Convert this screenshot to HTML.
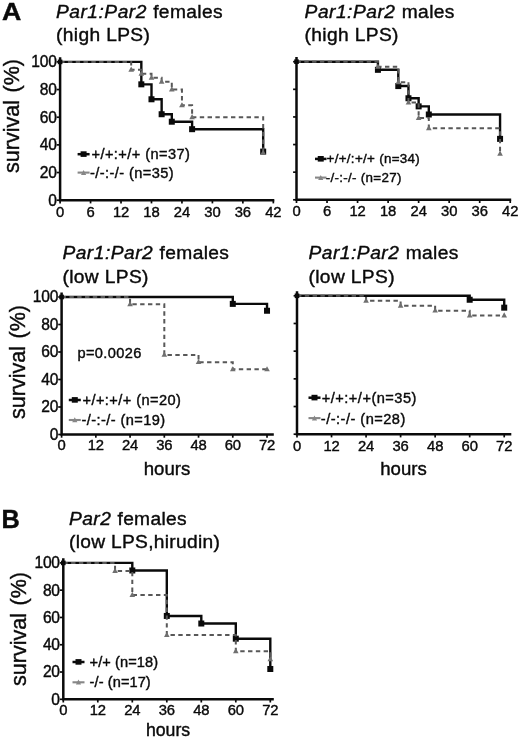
<!DOCTYPE html>
<html lang="en">
<head>
<meta charset="utf-8">
<title>Survival curves</title>
<style>
html,body{margin:0;padding:0;background:#fff;}
body{width:520px;height:738px;overflow:hidden;}
svg{display:block;filter:blur(0.4px);font-family:"Liberation Sans", Arial, Helvetica, sans-serif;fill:#0a0a0a;}
svg text{stroke:#0a0a0a;stroke-width:0.4px;}
</style>
</head>
<body>
<svg width="520" height="738" viewBox="0 0 520 738">
<rect x="0" y="0" width="520" height="738" fill="#ffffff"/>
<text transform="translate(1.9,20.4) scale(1.1,1)" font-size="24.3" font-weight="bold">A</text>
<text transform="translate(1.4,527.8) scale(1.0,1)" font-size="25.3" font-weight="bold">B</text>
<text x="56" y="17.8" font-size="19.2" letter-spacing="0.36"><tspan font-style="italic" letter-spacing="0.50">Par1:Par2</tspan><tspan dx="0.6"> females</tspan></text>
<text x="56" y="41.4" font-size="19.2" letter-spacing="0.36">(high LPS)</text>
<text transform="translate(19.2,116) rotate(-90)" text-anchor="middle" font-size="21.5" word-spacing="1.6">survival (%)</text>
<path d="M60.10,61.90 H141.33 V84.33 H151.49 V99.28 H161.64 V114.23 H171.79 V121.71 H192.10 V129.18 H263.18 V151.61" fill="none" stroke="#0a0a0a" stroke-width="2.4"/>
<rect x="138.33" y="81.33" width="6.0" height="6.0" fill="#0a0a0a"/>
<rect x="148.49" y="96.28" width="6.0" height="6.0" fill="#0a0a0a"/>
<rect x="158.64" y="111.23" width="6.0" height="6.0" fill="#0a0a0a"/>
<rect x="168.79" y="118.71" width="6.0" height="6.0" fill="#0a0a0a"/>
<rect x="189.10" y="126.18" width="6.0" height="6.0" fill="#0a0a0a"/>
<rect x="260.18" y="148.61" width="6.0" height="6.0" fill="#0a0a0a"/>
<path d="M60.10,61.90 H131.18 V69.80 H141.33 V73.75 H151.49 V77.71 H161.64 V81.66 H171.79 V89.56 H181.95 V105.37 H192.10 V117.22 H263.18 V152.78" fill="none" stroke="#585858" stroke-width="2" stroke-dasharray="4.4 3.4"/>
<path d="M131.18,66.58 L133.98,71.78 L128.38,71.78 Z" fill="#707070"/>
<path d="M141.33,70.53 L144.13,75.73 L138.53,75.73 Z" fill="#707070"/>
<path d="M151.49,74.48 L154.29,79.68 L148.69,79.68 Z" fill="#707070"/>
<path d="M161.64,78.43 L164.44,83.63 L158.84,83.63 Z" fill="#707070"/>
<path d="M171.79,86.34 L174.59,91.54 L168.99,91.54 Z" fill="#707070"/>
<path d="M181.95,102.14 L184.75,107.34 L179.15,107.34 Z" fill="#707070"/>
<path d="M192.10,114.00 L194.90,119.20 L189.30,119.20 Z" fill="#707070"/>
<path d="M263.18,149.56 L265.98,154.76 L260.38,154.76 Z" fill="#707070"/>
<rect x="57.80" y="59.60" width="4.6" height="4.6" fill="#0a0a0a"/>
<path d="M60.10,57.30 V200.20 H274.30" fill="none" stroke="#0a0a0a" stroke-width="2.5" stroke-linejoin="miter"/>
<line x1="56.70" x2="60.10" y1="200.20" y2="200.20" stroke="#0a0a0a" stroke-width="1.7"/>
<text x="56.60" y="205.65" text-anchor="end" font-size="15.6" letter-spacing="-0.25">0</text>
<line x1="56.70" x2="60.10" y1="172.54" y2="172.54" stroke="#0a0a0a" stroke-width="1.7"/>
<text x="56.60" y="177.99" text-anchor="end" font-size="15.6" letter-spacing="-0.25">20</text>
<line x1="56.70" x2="60.10" y1="144.88" y2="144.88" stroke="#0a0a0a" stroke-width="1.7"/>
<text x="56.60" y="150.33" text-anchor="end" font-size="15.6" letter-spacing="-0.25">40</text>
<line x1="56.70" x2="60.10" y1="117.22" y2="117.22" stroke="#0a0a0a" stroke-width="1.7"/>
<text x="56.60" y="122.67" text-anchor="end" font-size="15.6" letter-spacing="-0.25">60</text>
<line x1="56.70" x2="60.10" y1="89.56" y2="89.56" stroke="#0a0a0a" stroke-width="1.7"/>
<text x="56.60" y="95.01" text-anchor="end" font-size="15.6" letter-spacing="-0.25">80</text>
<line x1="56.70" x2="60.10" y1="61.90" y2="61.90" stroke="#0a0a0a" stroke-width="1.7"/>
<text x="56.60" y="67.35" text-anchor="end" font-size="15.6" letter-spacing="-0.25">100</text>
<line x1="60.10" x2="60.10" y1="200.20" y2="203.40" stroke="#0a0a0a" stroke-width="1.7"/>
<text x="60.10" y="217.00" text-anchor="middle" font-size="14.8" letter-spacing="-0.1">0</text>
<line x1="90.56" x2="90.56" y1="200.20" y2="203.40" stroke="#0a0a0a" stroke-width="1.7"/>
<text x="90.56" y="217.00" text-anchor="middle" font-size="14.8" letter-spacing="-0.1">6</text>
<line x1="121.02" x2="121.02" y1="200.20" y2="203.40" stroke="#0a0a0a" stroke-width="1.7"/>
<text x="121.02" y="217.00" text-anchor="middle" font-size="14.8" letter-spacing="-0.1">12</text>
<line x1="151.49" x2="151.49" y1="200.20" y2="203.40" stroke="#0a0a0a" stroke-width="1.7"/>
<text x="151.49" y="217.00" text-anchor="middle" font-size="14.8" letter-spacing="-0.1">18</text>
<line x1="181.95" x2="181.95" y1="200.20" y2="203.40" stroke="#0a0a0a" stroke-width="1.7"/>
<text x="181.95" y="217.00" text-anchor="middle" font-size="14.8" letter-spacing="-0.1">24</text>
<line x1="212.41" x2="212.41" y1="200.20" y2="203.40" stroke="#0a0a0a" stroke-width="1.7"/>
<text x="212.41" y="217.00" text-anchor="middle" font-size="14.8" letter-spacing="-0.1">30</text>
<line x1="242.87" x2="242.87" y1="200.20" y2="203.40" stroke="#0a0a0a" stroke-width="1.7"/>
<text x="242.87" y="217.00" text-anchor="middle" font-size="14.8" letter-spacing="-0.1">36</text>
<line x1="273.33" x2="273.33" y1="200.20" y2="203.40" stroke="#0a0a0a" stroke-width="1.7"/>
<text x="273.33" y="217.00" text-anchor="middle" font-size="14.8" letter-spacing="-0.1">42</text>
<line x1="77.6" x2="89.6" y1="154.2" y2="154.2" stroke="#0a0a0a" stroke-width="2.5"/>
<rect x="80.60" y="151.30" width="6.0" height="5.6" fill="#0a0a0a"/>
<text x="91.5" y="158.8" font-size="14.6" letter-spacing="0.42">+/+:+/+ (n=37)</text>
<line x1="77.6" x2="89.6" y1="172.6" y2="172.6" stroke="#878787" stroke-width="2.1"/>
<path d="M83.60,169.90 L86.20,174.90 L81.00,174.90 Z" fill="#878787"/>
<text x="90" y="177.6" font-size="14.6" letter-spacing="0.42">-/-:-/- (n=35)</text>
<text x="304.6" y="17.8" font-size="19.2" letter-spacing="0.36"><tspan font-style="italic" letter-spacing="0.50">Par1:Par2</tspan><tspan dx="0.6"> males</tspan></text>
<text x="304.6" y="41.4" font-size="19.2" letter-spacing="0.36">(high LPS)</text>
<path d="M296.50,61.70 H377.92 V69.82 H398.28 V86.07 H408.46 V98.26 H418.64 V106.38 H428.81 V114.50 H500.06 V138.87" fill="none" stroke="#0a0a0a" stroke-width="2.4"/>
<rect x="374.92" y="66.82" width="6.0" height="6.0" fill="#0a0a0a"/>
<rect x="395.28" y="83.07" width="6.0" height="6.0" fill="#0a0a0a"/>
<rect x="405.46" y="95.26" width="6.0" height="6.0" fill="#0a0a0a"/>
<rect x="415.64" y="103.38" width="6.0" height="6.0" fill="#0a0a0a"/>
<rect x="425.81" y="111.50" width="6.0" height="6.0" fill="#0a0a0a"/>
<rect x="497.06" y="135.87" width="6.0" height="6.0" fill="#0a0a0a"/>
<path d="M296.50,61.70 H377.92 V66.81 H398.28 V82.16 H408.46 V102.62 H418.64 V117.96 H428.81 V128.19 H500.06 V153.77" fill="none" stroke="#585858" stroke-width="2" stroke-dasharray="4.4 3.4"/>
<path d="M377.92,63.59 L380.72,68.79 L375.12,68.79 Z" fill="#707070"/>
<path d="M398.28,78.94 L401.08,84.14 L395.48,84.14 Z" fill="#707070"/>
<path d="M408.46,99.39 L411.26,104.59 L405.66,104.59 Z" fill="#707070"/>
<path d="M418.64,114.74 L421.44,119.94 L415.84,119.94 Z" fill="#707070"/>
<path d="M428.81,124.97 L431.61,130.17 L426.01,130.17 Z" fill="#707070"/>
<path d="M500.06,150.54 L502.86,155.74 L497.26,155.74 Z" fill="#707070"/>
<rect x="294.20" y="59.40" width="4.6" height="4.6" fill="#0a0a0a"/>
<path d="M296.50,57.10 V199.80 H511.20" fill="none" stroke="#0a0a0a" stroke-width="2.5" stroke-linejoin="miter"/>
<line x1="293.10" x2="296.50" y1="199.80" y2="199.80" stroke="#0a0a0a" stroke-width="1.7"/>
<line x1="293.10" x2="296.50" y1="172.18" y2="172.18" stroke="#0a0a0a" stroke-width="1.7"/>
<line x1="293.10" x2="296.50" y1="144.56" y2="144.56" stroke="#0a0a0a" stroke-width="1.7"/>
<line x1="293.10" x2="296.50" y1="116.94" y2="116.94" stroke="#0a0a0a" stroke-width="1.7"/>
<line x1="293.10" x2="296.50" y1="89.32" y2="89.32" stroke="#0a0a0a" stroke-width="1.7"/>
<line x1="293.10" x2="296.50" y1="61.70" y2="61.70" stroke="#0a0a0a" stroke-width="1.7"/>
<line x1="296.50" x2="296.50" y1="199.80" y2="203.00" stroke="#0a0a0a" stroke-width="1.7"/>
<text x="296.50" y="215.50" text-anchor="middle" font-size="14.8" letter-spacing="-0.1">0</text>
<line x1="327.03" x2="327.03" y1="199.80" y2="203.00" stroke="#0a0a0a" stroke-width="1.7"/>
<text x="327.03" y="215.50" text-anchor="middle" font-size="14.8" letter-spacing="-0.1">6</text>
<line x1="357.57" x2="357.57" y1="199.80" y2="203.00" stroke="#0a0a0a" stroke-width="1.7"/>
<text x="357.57" y="215.50" text-anchor="middle" font-size="14.8" letter-spacing="-0.1">12</text>
<line x1="388.10" x2="388.10" y1="199.80" y2="203.00" stroke="#0a0a0a" stroke-width="1.7"/>
<text x="388.10" y="215.50" text-anchor="middle" font-size="14.8" letter-spacing="-0.1">18</text>
<line x1="418.64" x2="418.64" y1="199.80" y2="203.00" stroke="#0a0a0a" stroke-width="1.7"/>
<text x="418.64" y="215.50" text-anchor="middle" font-size="14.8" letter-spacing="-0.1">24</text>
<line x1="449.17" x2="449.17" y1="199.80" y2="203.00" stroke="#0a0a0a" stroke-width="1.7"/>
<text x="449.17" y="215.50" text-anchor="middle" font-size="14.8" letter-spacing="-0.1">30</text>
<line x1="479.70" x2="479.70" y1="199.80" y2="203.00" stroke="#0a0a0a" stroke-width="1.7"/>
<text x="479.70" y="215.50" text-anchor="middle" font-size="14.8" letter-spacing="-0.1">36</text>
<line x1="510.24" x2="510.24" y1="199.80" y2="203.00" stroke="#0a0a0a" stroke-width="1.7"/>
<text x="510.24" y="215.50" text-anchor="middle" font-size="14.8" letter-spacing="-0.1">42</text>
<line x1="315" x2="326.5" y1="158.9" y2="158.9" stroke="#0a0a0a" stroke-width="2.5"/>
<rect x="317.75" y="156.00" width="6.0" height="5.6" fill="#0a0a0a"/>
<text x="326.6" y="163.3" font-size="13.4" letter-spacing="0.3">+/+/:+/+ (n=34)</text>
<line x1="315" x2="326.5" y1="177.6" y2="177.6" stroke="#878787" stroke-width="2.1"/>
<path d="M320.75,174.90 L323.35,179.90 L318.15,179.90 Z" fill="#878787"/>
<text x="325.7" y="182.2" font-size="13.4" letter-spacing="0.3">-/-:-/- (n=27)</text>
<text x="62.4" y="259.2" font-size="19.2" letter-spacing="0.36"><tspan font-style="italic" letter-spacing="0.50">Par1:Par2</tspan><tspan dx="0.6"> females</tspan></text>
<text x="62.4" y="282.6" font-size="19.2" letter-spacing="0.36">(low LPS)</text>
<text transform="translate(25.0,362) rotate(-90)" text-anchor="middle" font-size="21.5" word-spacing="1.6">survival (%)</text>
<path d="M61.60,297.00 H232.78 V303.88 H267.02 V310.75" fill="none" stroke="#0a0a0a" stroke-width="2.4"/>
<rect x="229.78" y="300.88" width="6.0" height="6.0" fill="#0a0a0a"/>
<rect x="264.02" y="307.75" width="6.0" height="6.0" fill="#0a0a0a"/>
<path d="M61.60,297.00 H130.07 V304.24 H164.31 V354.89 H198.54 V362.13 H232.78 V369.37 H267.02" fill="none" stroke="#585858" stroke-width="2" stroke-dasharray="4.4 3.4"/>
<path d="M130.07,301.01 L132.87,306.21 L127.27,306.21 Z" fill="#707070"/>
<path d="M164.31,351.67 L167.11,356.87 L161.51,356.87 Z" fill="#707070"/>
<path d="M198.54,358.91 L201.34,364.11 L195.74,364.11 Z" fill="#707070"/>
<path d="M232.78,366.14 L235.58,371.34 L229.98,371.34 Z" fill="#707070"/>
<path d="M267.02,366.14 L269.82,371.34 L264.22,371.34 Z" fill="#707070"/>
<rect x="59.30" y="294.70" width="4.6" height="4.6" fill="#0a0a0a"/>
<path d="M61.60,292.40 V434.50 H273.80" fill="none" stroke="#0a0a0a" stroke-width="2.5" stroke-linejoin="miter"/>
<line x1="58.20" x2="61.60" y1="434.50" y2="434.50" stroke="#0a0a0a" stroke-width="1.7"/>
<text x="58.10" y="439.95" text-anchor="end" font-size="15.6" letter-spacing="-0.25">0</text>
<line x1="58.20" x2="61.60" y1="407.00" y2="407.00" stroke="#0a0a0a" stroke-width="1.7"/>
<text x="58.10" y="412.45" text-anchor="end" font-size="15.6" letter-spacing="-0.25">20</text>
<line x1="58.20" x2="61.60" y1="379.50" y2="379.50" stroke="#0a0a0a" stroke-width="1.7"/>
<text x="58.10" y="384.95" text-anchor="end" font-size="15.6" letter-spacing="-0.25">40</text>
<line x1="58.20" x2="61.60" y1="352.00" y2="352.00" stroke="#0a0a0a" stroke-width="1.7"/>
<text x="58.10" y="357.45" text-anchor="end" font-size="15.6" letter-spacing="-0.25">60</text>
<line x1="58.20" x2="61.60" y1="324.50" y2="324.50" stroke="#0a0a0a" stroke-width="1.7"/>
<text x="58.10" y="329.95" text-anchor="end" font-size="15.6" letter-spacing="-0.25">80</text>
<line x1="58.20" x2="61.60" y1="297.00" y2="297.00" stroke="#0a0a0a" stroke-width="1.7"/>
<text x="58.10" y="302.45" text-anchor="end" font-size="15.6" letter-spacing="-0.25">100</text>
<line x1="61.60" x2="61.60" y1="434.50" y2="437.70" stroke="#0a0a0a" stroke-width="1.7"/>
<text x="61.60" y="450.20" text-anchor="middle" font-size="14.8" letter-spacing="-0.1">0</text>
<line x1="95.84" x2="95.84" y1="434.50" y2="437.70" stroke="#0a0a0a" stroke-width="1.7"/>
<text x="95.84" y="450.20" text-anchor="middle" font-size="14.8" letter-spacing="-0.1">12</text>
<line x1="130.07" x2="130.07" y1="434.50" y2="437.70" stroke="#0a0a0a" stroke-width="1.7"/>
<text x="130.07" y="450.20" text-anchor="middle" font-size="14.8" letter-spacing="-0.1">24</text>
<line x1="164.31" x2="164.31" y1="434.50" y2="437.70" stroke="#0a0a0a" stroke-width="1.7"/>
<text x="164.31" y="450.20" text-anchor="middle" font-size="14.8" letter-spacing="-0.1">36</text>
<line x1="198.54" x2="198.54" y1="434.50" y2="437.70" stroke="#0a0a0a" stroke-width="1.7"/>
<text x="198.54" y="450.20" text-anchor="middle" font-size="14.8" letter-spacing="-0.1">48</text>
<line x1="232.78" x2="232.78" y1="434.50" y2="437.70" stroke="#0a0a0a" stroke-width="1.7"/>
<text x="232.78" y="450.20" text-anchor="middle" font-size="14.8" letter-spacing="-0.1">60</text>
<line x1="267.02" x2="267.02" y1="434.50" y2="437.70" stroke="#0a0a0a" stroke-width="1.7"/>
<text x="267.02" y="450.20" text-anchor="middle" font-size="14.8" letter-spacing="-0.1">72</text>
<text x="167" y="475.2" text-anchor="middle" font-size="18.6">hours</text>
<text x="77.4" y="358" font-size="14.6" letter-spacing="0.4">p=0.0026</text>
<line x1="68.8" x2="80.8" y1="400" y2="400" stroke="#0a0a0a" stroke-width="2.5"/>
<rect x="71.80" y="397.10" width="6.0" height="5.6" fill="#0a0a0a"/>
<text x="82.5" y="404.8" font-size="14.6" letter-spacing="0.42">+/+:+/+ (n=20)</text>
<line x1="68.8" x2="80.8" y1="420" y2="420" stroke="#878787" stroke-width="2.1"/>
<path d="M74.80,417.30 L77.40,422.30 L72.20,422.30 Z" fill="#878787"/>
<text x="81.5" y="425" font-size="14.6" letter-spacing="0.42">-/-:-/- (n=19)</text>
<text x="308.5" y="259.2" font-size="19.2" letter-spacing="0.36"><tspan font-style="italic" letter-spacing="0.50">Par1:Par2</tspan><tspan dx="0.6"> males</tspan></text>
<text x="308.5" y="282.6" font-size="19.2" letter-spacing="0.36">(low LPS)</text>
<path d="M297.00,295.80 H469.68 V299.75 H504.22 V307.66" fill="none" stroke="#0a0a0a" stroke-width="2.4"/>
<rect x="466.68" y="296.75" width="6.0" height="6.0" fill="#0a0a0a"/>
<rect x="501.22" y="304.66" width="6.0" height="6.0" fill="#0a0a0a"/>
<path d="M297.00,295.80 H366.07 V300.74 H400.61 V305.69 H435.14 V310.63 H469.68 V315.57 H504.22" fill="none" stroke="#585858" stroke-width="2" stroke-dasharray="4.4 3.4"/>
<path d="M366.07,297.52 L368.87,302.72 L363.27,302.72 Z" fill="#707070"/>
<path d="M400.61,302.46 L403.41,307.66 L397.81,307.66 Z" fill="#707070"/>
<path d="M435.14,307.40 L437.94,312.60 L432.34,312.60 Z" fill="#707070"/>
<path d="M469.68,312.35 L472.48,317.55 L466.88,317.55 Z" fill="#707070"/>
<path d="M504.22,312.35 L507.02,317.55 L501.42,317.55 Z" fill="#707070"/>
<rect x="294.70" y="293.50" width="4.6" height="4.6" fill="#0a0a0a"/>
<path d="M297.00,291.20 V434.20 H511.30" fill="none" stroke="#0a0a0a" stroke-width="2.5" stroke-linejoin="miter"/>
<line x1="293.60" x2="297.00" y1="434.20" y2="434.20" stroke="#0a0a0a" stroke-width="1.7"/>
<line x1="293.60" x2="297.00" y1="406.52" y2="406.52" stroke="#0a0a0a" stroke-width="1.7"/>
<line x1="293.60" x2="297.00" y1="378.84" y2="378.84" stroke="#0a0a0a" stroke-width="1.7"/>
<line x1="293.60" x2="297.00" y1="351.16" y2="351.16" stroke="#0a0a0a" stroke-width="1.7"/>
<line x1="293.60" x2="297.00" y1="323.48" y2="323.48" stroke="#0a0a0a" stroke-width="1.7"/>
<line x1="293.60" x2="297.00" y1="295.80" y2="295.80" stroke="#0a0a0a" stroke-width="1.7"/>
<line x1="297.00" x2="297.00" y1="434.20" y2="437.40" stroke="#0a0a0a" stroke-width="1.7"/>
<text x="297.00" y="451.20" text-anchor="middle" font-size="14.8" letter-spacing="-0.1">0</text>
<line x1="331.54" x2="331.54" y1="434.20" y2="437.40" stroke="#0a0a0a" stroke-width="1.7"/>
<text x="331.54" y="451.20" text-anchor="middle" font-size="14.8" letter-spacing="-0.1">12</text>
<line x1="366.07" x2="366.07" y1="434.20" y2="437.40" stroke="#0a0a0a" stroke-width="1.7"/>
<text x="366.07" y="451.20" text-anchor="middle" font-size="14.8" letter-spacing="-0.1">24</text>
<line x1="400.61" x2="400.61" y1="434.20" y2="437.40" stroke="#0a0a0a" stroke-width="1.7"/>
<text x="400.61" y="451.20" text-anchor="middle" font-size="14.8" letter-spacing="-0.1">36</text>
<line x1="435.14" x2="435.14" y1="434.20" y2="437.40" stroke="#0a0a0a" stroke-width="1.7"/>
<text x="435.14" y="451.20" text-anchor="middle" font-size="14.8" letter-spacing="-0.1">48</text>
<line x1="469.68" x2="469.68" y1="434.20" y2="437.40" stroke="#0a0a0a" stroke-width="1.7"/>
<text x="469.68" y="451.20" text-anchor="middle" font-size="14.8" letter-spacing="-0.1">60</text>
<line x1="504.22" x2="504.22" y1="434.20" y2="437.40" stroke="#0a0a0a" stroke-width="1.7"/>
<text x="504.22" y="451.20" text-anchor="middle" font-size="14.8" letter-spacing="-0.1">72</text>
<text x="403.5" y="475.3" text-anchor="middle" font-size="18.6">hours</text>
<line x1="308.5" x2="320.5" y1="397.7" y2="397.7" stroke="#0a0a0a" stroke-width="2.5"/>
<rect x="311.50" y="394.80" width="6.0" height="5.6" fill="#0a0a0a"/>
<text x="321.8" y="402.7" font-size="14.6" letter-spacing="0.48">+/+:+/+(n=35)</text>
<line x1="308.5" x2="320.5" y1="418.1" y2="418.1" stroke="#878787" stroke-width="2.1"/>
<path d="M314.50,415.40 L317.10,420.40 L311.90,420.40 Z" fill="#878787"/>
<text x="320.8" y="423.5" font-size="14.6" letter-spacing="0.48">-/-:-/- (n=28)</text>
<text x="69" y="524.8" font-size="19.2" letter-spacing="0.3"><tspan font-style="italic" letter-spacing="0.44">Par2</tspan><tspan dx="0.6"> females</tspan></text>
<text x="69" y="548.4" font-size="19.2" letter-spacing="0.3">(low LPS,hirudin)</text>
<text transform="translate(25.6,629) rotate(-90)" text-anchor="middle" font-size="21.5" word-spacing="1.6">survival (%)</text>
<path d="M63.30,562.90 H132.30 V570.48 H166.80 V615.94 H201.30 V623.52 H235.80 V638.68 H270.30 V668.99" fill="none" stroke="#0a0a0a" stroke-width="2.4"/>
<rect x="129.30" y="567.48" width="6.0" height="6.0" fill="#0a0a0a"/>
<rect x="163.80" y="612.94" width="6.0" height="6.0" fill="#0a0a0a"/>
<rect x="198.30" y="620.52" width="6.0" height="6.0" fill="#0a0a0a"/>
<rect x="232.80" y="635.68" width="6.0" height="6.0" fill="#0a0a0a"/>
<rect x="267.30" y="665.99" width="6.0" height="6.0" fill="#0a0a0a"/>
<path d="M63.30,562.90 H115.05 V570.92 H132.30 V594.99 H166.80 V635.11 H235.80 V651.16 H270.30 V659.18" fill="none" stroke="#585858" stroke-width="2" stroke-dasharray="4.4 3.4"/>
<path d="M115.05,567.70 L117.85,572.90 L112.25,572.90 Z" fill="#707070"/>
<path d="M132.30,591.77 L135.10,596.97 L129.50,596.97 Z" fill="#707070"/>
<path d="M166.80,631.89 L169.60,637.09 L164.00,637.09 Z" fill="#707070"/>
<path d="M235.80,647.93 L238.60,653.13 L233.00,653.13 Z" fill="#707070"/>
<path d="M270.30,655.96 L273.10,661.16 L267.50,661.16 Z" fill="#707070"/>
<rect x="61.00" y="560.60" width="4.6" height="4.6" fill="#0a0a0a"/>
<path d="M63.30,558.30 V699.30 H273.80" fill="none" stroke="#0a0a0a" stroke-width="2.5" stroke-linejoin="miter"/>
<line x1="59.90" x2="63.30" y1="699.30" y2="699.30" stroke="#0a0a0a" stroke-width="1.7"/>
<text x="59.80" y="704.75" text-anchor="end" font-size="15.6" letter-spacing="-0.25">0</text>
<line x1="59.90" x2="63.30" y1="672.02" y2="672.02" stroke="#0a0a0a" stroke-width="1.7"/>
<text x="59.80" y="677.47" text-anchor="end" font-size="15.6" letter-spacing="-0.25">20</text>
<line x1="59.90" x2="63.30" y1="644.74" y2="644.74" stroke="#0a0a0a" stroke-width="1.7"/>
<text x="59.80" y="650.19" text-anchor="end" font-size="15.6" letter-spacing="-0.25">40</text>
<line x1="59.90" x2="63.30" y1="617.46" y2="617.46" stroke="#0a0a0a" stroke-width="1.7"/>
<text x="59.80" y="622.91" text-anchor="end" font-size="15.6" letter-spacing="-0.25">60</text>
<line x1="59.90" x2="63.30" y1="590.18" y2="590.18" stroke="#0a0a0a" stroke-width="1.7"/>
<text x="59.80" y="595.63" text-anchor="end" font-size="15.6" letter-spacing="-0.25">80</text>
<line x1="59.90" x2="63.30" y1="562.90" y2="562.90" stroke="#0a0a0a" stroke-width="1.7"/>
<text x="59.80" y="568.35" text-anchor="end" font-size="15.6" letter-spacing="-0.25">100</text>
<line x1="63.30" x2="63.30" y1="699.30" y2="702.50" stroke="#0a0a0a" stroke-width="1.7"/>
<text x="63.30" y="714.70" text-anchor="middle" font-size="14.8" letter-spacing="-0.1">0</text>
<line x1="97.80" x2="97.80" y1="699.30" y2="702.50" stroke="#0a0a0a" stroke-width="1.7"/>
<text x="97.80" y="714.70" text-anchor="middle" font-size="14.8" letter-spacing="-0.1">12</text>
<line x1="132.30" x2="132.30" y1="699.30" y2="702.50" stroke="#0a0a0a" stroke-width="1.7"/>
<text x="132.30" y="714.70" text-anchor="middle" font-size="14.8" letter-spacing="-0.1">24</text>
<line x1="166.80" x2="166.80" y1="699.30" y2="702.50" stroke="#0a0a0a" stroke-width="1.7"/>
<text x="166.80" y="714.70" text-anchor="middle" font-size="14.8" letter-spacing="-0.1">36</text>
<line x1="201.30" x2="201.30" y1="699.30" y2="702.50" stroke="#0a0a0a" stroke-width="1.7"/>
<text x="201.30" y="714.70" text-anchor="middle" font-size="14.8" letter-spacing="-0.1">48</text>
<line x1="235.80" x2="235.80" y1="699.30" y2="702.50" stroke="#0a0a0a" stroke-width="1.7"/>
<text x="235.80" y="714.70" text-anchor="middle" font-size="14.8" letter-spacing="-0.1">60</text>
<line x1="270.30" x2="270.30" y1="699.30" y2="702.50" stroke="#0a0a0a" stroke-width="1.7"/>
<text x="270.30" y="714.70" text-anchor="middle" font-size="14.8" letter-spacing="-0.1">72</text>
<text x="168" y="736.3" text-anchor="middle" font-size="17.7">hours</text>
<line x1="72.5" x2="84.5" y1="662.0" y2="662.0" stroke="#0a0a0a" stroke-width="2.5"/>
<rect x="75.50" y="659.10" width="6.0" height="5.6" fill="#0a0a0a"/>
<text x="89.6" y="666.8" font-size="14.6" letter-spacing="0.08">+/+ (n=18)</text>
<line x1="72.5" x2="84.5" y1="682.3" y2="682.3" stroke="#878787" stroke-width="2.1"/>
<path d="M78.50,679.60 L81.10,684.60 L75.90,684.60 Z" fill="#878787"/>
<text x="89.6" y="687.0" font-size="14.6" letter-spacing="0.08">-/- (n=17)</text>
</svg>
</body>
</html>
